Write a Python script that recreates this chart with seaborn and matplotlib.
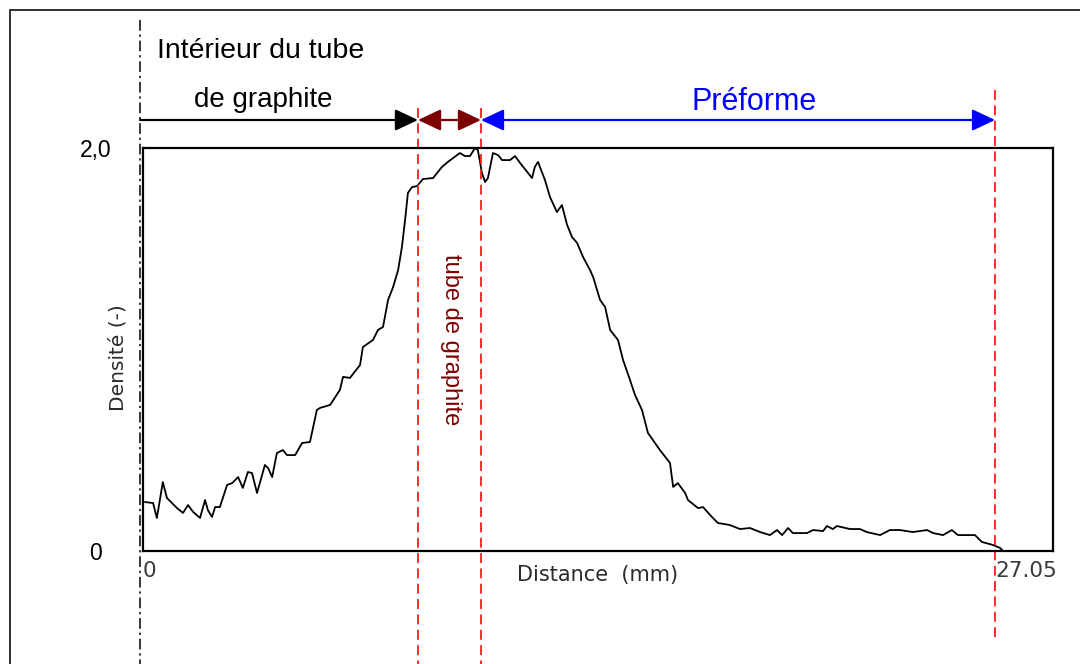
import numpy as np
import pandas as pd
import matplotlib
matplotlib.use("Agg")
import matplotlib.pyplot as plt
from matplotlib.patches import Rectangle
import seaborn as sns

# Density profile across the graphite tube and the preform (distance in mm)
distance = [
    0.06, 0.32, 0.44, 0.63, 0.76, 1.08, 1.27, 1.43, 1.59, 1.81, 1.97, 2.06, 2.19, 2.29,
    2.44, 2.67, 2.83, 3.02, 3.17, 3.33, 3.46, 3.62, 3.87, 3.97, 4.10, 4.25, 4.44, 4.57,
    4.83, 5.05, 5.30, 5.52, 5.62, 5.94, 6.25, 6.35, 6.57, 6.89, 6.98, 7.30, 7.46, 7.62,
    7.78, 7.94, 8.10, 8.22, 8.32, 8.41, 8.54, 8.70, 8.89, 9.21, 9.49, 9.68, 10.06, 10.22,
    10.38, 10.54, 10.63, 10.76, 10.86, 10.95, 11.11, 11.27, 11.40, 11.65, 11.81, 11.97,
    12.35, 12.44, 12.54, 12.76, 12.92, 13.14, 13.30, 13.46, 13.62, 13.78, 13.97, 14.19,
    14.29, 14.51, 14.67, 14.83, 15.08, 15.24, 15.46, 15.62, 15.84, 16.03, 16.41, 16.73,
    16.83, 16.98, 17.21, 17.30, 17.62, 17.78, 18.00, 18.25, 18.63, 18.95, 19.27, 19.59,
    19.90, 20.13, 20.29, 20.48, 20.63, 21.08, 21.27, 21.59, 21.71, 21.90, 22.03, 22.44,
    22.76, 22.98, 23.40, 23.71, 24.03, 24.44, 24.89, 25.08, 25.40, 25.68, 25.87, 26.41,
    26.63, 26.98, 27.21, 27.30, 27.59, 27.94,
]
density = [
    0.243, 0.238, 0.164, 0.342, 0.263, 0.213, 0.189, 0.228, 0.194, 0.164, 0.253, 0.203, 0.169, 0.218,
    0.218, 0.328, 0.337, 0.367, 0.313, 0.392, 0.387, 0.288, 0.427, 0.412, 0.367, 0.486, 0.501, 0.476,
    0.476, 0.536, 0.541, 0.700, 0.710, 0.725, 0.799, 0.864, 0.859, 0.923, 1.012, 1.047, 1.097, 1.112,
    1.246, 1.310, 1.395, 1.509, 1.643, 1.777, 1.806, 1.811, 1.846, 1.851, 1.906, 1.931, 1.975, 1.960,
    1.960, 2.000, 1.990, 1.876, 1.831, 1.851, 1.975, 1.965, 1.940, 1.940, 1.960, 1.926,
    1.851, 1.906, 1.931, 1.841, 1.757, 1.682, 1.717, 1.620, 1.558, 1.529, 1.459, 1.395,
    1.360, 1.246, 1.211, 1.097, 1.047, 0.948, 0.849, 0.774, 0.700, 0.586, 0.501, 0.437,
    0.318, 0.337, 0.288, 0.253, 0.213, 0.218, 0.179, 0.139, 0.129, 0.109, 0.114, 0.094,
    0.079, 0.104, 0.079, 0.114, 0.089, 0.089, 0.104, 0.099, 0.124, 0.109, 0.124, 0.109,
    0.109, 0.094, 0.079, 0.104, 0.104, 0.094, 0.104, 0.089, 0.079, 0.104, 0.079, 0.079,
    0.045, 0.030, 0.015, 0.0, 0.0, 0.0,
]

# Zone boundaries (mm)
tube_inner = -0.095
tube_outer = 8.73
preform_start = 10.73
preform_end = 27.05

xtick_values = [0, preform_end]
xtick_labels = ["0", "27.05"]
ytick_values = [0, 2.0]
ytick_labels = ["0", "2,0"]

df = pd.DataFrame({"Distance": distance, "Densite": density})

sns.set_theme(style="white")
plt.rcParams["font.family"] = ["Liberation Sans", "DejaVu Sans"]

W, H = 1080, 664
fig = plt.figure(figsize=(W / 100, H / 100), dpi=100)
fig.patch.set_facecolor("white")

# outer frame (only the top and left edges fall inside the canvas)
fig.patches.append(Rectangle((10 / W, -0.5), 2.0, 1.5 - 10 / H, transform=fig.transFigure,
                             fill=False, edgecolor="#222222", linewidth=1.3))

ax = fig.add_axes([143 / W, 1 - 551 / H, 910 / W, 403 / H])
sns.lineplot(data=df, x="Distance", y="Densite", ax=ax, color="black", linewidth=1.3,
             sort=False, estimator=None)

ax.set_xlim(0, 910 / 31.5)
ax.set_ylim(0, 2.0)
for s in ax.spines.values():
    s.set_visible(True)
    s.set_color("black")
    s.set_linewidth(1.6)

ax.set_xticks(xtick_values)
ax.set_xticklabels(xtick_labels, family="DejaVu Sans", fontsize=15.5, color="#3a3a3a", ha="left")
ax.set_yticks(ytick_values)
ax.set_yticklabels(ytick_labels, family="Liberation Sans", fontsize=16.5, color="black", ha="center")
ax.tick_params(axis="x", length=0, pad=7)
ax.tick_params(axis="y", length=0, pad=34)

ax.set_xlabel("Distance  (mm)", family="DejaVu Sans", fontsize=15, color="#2a2a2a")
ax.xaxis.set_label_coords(0.5, -0.035)
ax.set_ylabel("Densité (-)", family="DejaVu Sans", fontsize=14.5, color="#2a2a2a")
ax.yaxis.set_label_coords(-0.017, 0.48)

xt = ax.get_xaxis_transform()

# zone boundaries
ax.plot([tube_inner, tube_inner], [1.318, -0.3], transform=xt, clip_on=False,
        color="black", linewidth=1.1, linestyle=(0, (7, 2.5, 1.5, 2.5)))
for xb in (tube_outer, preform_start):
    ax.plot([xb, xb], [1.099, -0.3], transform=xt, clip_on=False,
            color="#ff1a1a", linewidth=1.3, linestyle=(0, (5.5, 3)))
ax.plot([preform_end, preform_end], [1.144, -0.216], transform=xt, clip_on=False,
        color="#ff1a1a", linewidth=1.3, linestyle=(0, (5.5, 3)))

# zone arrows
arrow_y = (551 - 120) / 403
head = dict(mutation_scale=20, shrinkA=0, shrinkB=0, linewidth=1.6)
ax.annotate("", xy=(tube_outer, arrow_y), xytext=(tube_inner, arrow_y),
            xycoords=xt, textcoords=xt, annotation_clip=False,
            arrowprops=dict(arrowstyle="-|>,head_length=0.7,head_width=0.33",
                            color="black", **head))
ax.annotate("", xy=(preform_start, arrow_y), xytext=(tube_outer, arrow_y),
            xycoords=xt, textcoords=xt, annotation_clip=False,
            arrowprops=dict(arrowstyle="<|-|>,head_length=0.7,head_width=0.33",
                            color="#7f0000", **head))
ax.annotate("", xy=(preform_end, arrow_y), xytext=(preform_start, arrow_y),
            xycoords=xt, textcoords=xt, annotation_clip=False,
            arrowprops=dict(arrowstyle="<|-|>,head_length=0.7,head_width=0.33",
                            color="#0000ff", **head))

# zone labels
fig.text(157 / W, 1 - 58 / H, "Intérieur du tube", fontsize=20.5, color="black",
         ha="left", va="baseline")
fig.text(263 / W, 1 - 107 / H, "de graphite", fontsize=20, color="black",
         ha="center", va="baseline")
fig.text(754 / W, 1 - 110 / H, "Préforme", fontsize=22, color="#0000ff",
         ha="center", va="baseline")
fig.text(451 / W, 1 - 340 / H, "tube de graphite", fontsize=17, color="#800000",
         ha="center", va="center", rotation=-90)

fig.savefig("out.png", dpi=100)
